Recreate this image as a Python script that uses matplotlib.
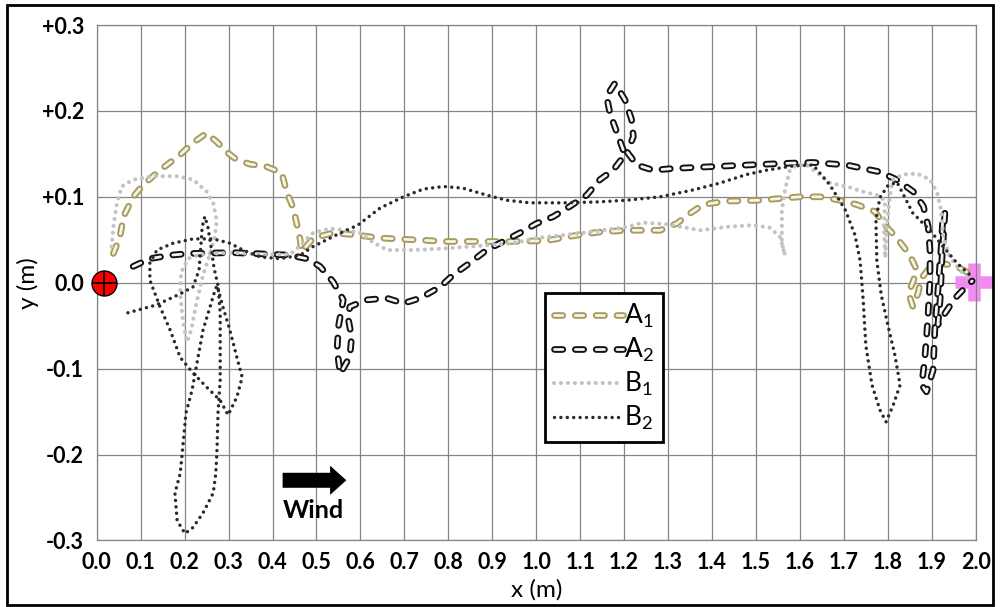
import matplotlib
matplotlib.use("Agg")
import matplotlib.pyplot as plt
import matplotlib.patheffects as pe
from matplotlib.patches import Rectangle

plt.rcParams['font.family'] = ['Lato', 'DejaVu Sans']
plt.rcParams['mathtext.fontset'] = 'custom'
plt.rcParams['mathtext.rm'] = 'Lato'
plt.rcParams['mathtext.it'] = 'Lato'
plt.rcParams['lines.scale_dashes'] = False

# ---------------- data ----------------
a1_x = [0.038, 0.053, 0.061, 0.083, 0.106, 0.144, 0.190, 0.219, 0.250, 0.273, 0.299, 0.319,
        0.349, 0.387, 0.421, 0.432, 0.447, 0.455, 0.463, 0.466, 0.493, 0.538, 0.584, 0.645,
        0.796, 0.948, 1.024, 1.100, 1.145, 1.206, 1.282, 1.320, 1.351, 1.380, 1.433, 1.509,
        1.600, 1.646, 1.691, 1.729, 1.770, 1.797, 1.824, 1.850, 1.866, 1.858, 1.847, 1.857,
        1.869, 1.876, 1.896, 1.930, 1.964, 1.992]
a1_y = [0.034, 0.054, 0.077, 0.100, 0.114, 0.131, 0.149, 0.163, 0.174, 0.164, 0.151, 0.143,
        0.138, 0.135, 0.128, 0.106, 0.087, 0.069, 0.050, 0.036, 0.052, 0.058, 0.056, 0.052,
        0.048, 0.048, 0.049, 0.056, 0.059, 0.061, 0.061, 0.069, 0.081, 0.091, 0.095, 0.096,
        0.100, 0.100, 0.096, 0.091, 0.083, 0.065, 0.050, 0.032, 0.015, 0.002, -0.012, -0.028,
        -0.012, 0.005, 0.018, 0.022, 0.017, 0.009]

a2_x = [0.083, 0.121, 0.167, 0.212, 0.311, 0.402, 0.440, 0.478, 0.508, 0.538, 0.561, 0.550,
        0.547, 0.554, 0.576, 0.580, 0.572, 0.576, 0.614, 0.660, 0.698, 0.736, 0.781, 0.811,
        0.849, 0.887, 0.925, 0.963, 1.001, 1.039, 1.077, 1.115, 1.145, 1.175, 1.202, 1.187,
        1.168, 1.160, 1.179, 1.202, 1.217, 1.221, 1.207, 1.229, 1.266, 1.312, 1.395, 1.479,
        1.570, 1.630, 1.707, 1.744, 1.782, 1.820, 1.858, 1.881, 1.892, 1.896, 1.896, 1.891,
        1.884, 1.877, 1.888, 1.903, 1.907, 1.914, 1.921, 1.925, 1.930, 1.923, 1.919, 1.914,
        1.923, 1.953, 1.983, 1.992]
a2_y = [0.019, 0.028, 0.032, 0.034, 0.035, 0.033, 0.032, 0.028, 0.019, 0.001, -0.020, -0.051,
        -0.078, -0.106, -0.086, -0.063, -0.041, -0.028, -0.020, -0.018, -0.024, -0.018, -0.005, 0.009,
        0.023, 0.038, 0.048, 0.058, 0.069, 0.077, 0.089, 0.102, 0.120, 0.131, 0.149, 0.170,
        0.197, 0.217, 0.232, 0.213, 0.190, 0.170, 0.152, 0.137, 0.131, 0.133, 0.135, 0.137,
        0.139, 0.140, 0.137, 0.133, 0.129, 0.120, 0.106, 0.089, 0.065, 0.038, 0.003, -0.043,
        -0.090, -0.119, -0.127, -0.102, -0.055, -0.009, 0.038, 0.073, 0.082, 0.026, -0.020, -0.049,
        -0.041, -0.018, -0.002, 0.002]

b1_x = [0.034, 0.038, 0.046, 0.057, 0.083, 0.129, 0.182, 0.220, 0.250, 0.265, 0.273, 0.269,
        0.258, 0.242, 0.226, 0.215, 0.205, 0.196, 0.190, 0.192, 0.208, 0.235, 0.303, 0.372,
        0.440, 0.463, 0.492, 0.531, 0.570, 0.599, 0.629, 0.661, 0.720, 0.797, 0.872, 0.947,
        1.002, 1.106, 1.207, 1.243, 1.298, 1.373, 1.434, 1.493, 1.532, 1.555, 1.566, 1.559,
        1.559, 1.566, 1.577, 1.593, 1.616, 1.639, 1.669, 1.707, 1.744, 1.775, 1.794, 1.791,
        1.794, 1.798, 1.805, 1.812, 1.835, 1.867, 1.896, 1.912, 1.921, 1.926, 1.941, 1.964,
        1.987]
b1_y = [0.042, 0.065, 0.093, 0.112, 0.120, 0.124, 0.124, 0.120, 0.106, 0.093, 0.073, 0.054,
        0.034, 0.009, -0.026, -0.055, -0.069, -0.043, -0.014, 0.012, 0.028, 0.033, 0.035, 0.033,
        0.033, 0.043, 0.058, 0.063, 0.061, 0.058, 0.047, 0.038, 0.038, 0.040, 0.043, 0.046,
        0.052, 0.058, 0.065, 0.070, 0.068, 0.061, 0.065, 0.067, 0.064, 0.053, 0.032, 0.046,
        0.085, 0.108, 0.131, 0.137, 0.137, 0.128, 0.116, 0.112, 0.106, 0.102, 0.096, 0.067,
        0.029, 0.067, 0.102, 0.120, 0.126, 0.127, 0.120, 0.105, 0.085, 0.053, 0.030, 0.015,
        0.003]

b2_x = [0.071, 0.135, 0.190, 0.219, 0.233, 0.237, 0.240, 0.246, 0.253, 0.260, 0.267, 0.276,
        0.281, 0.281, 0.281, 0.276, 0.274, 0.271, 0.265, 0.242, 0.219, 0.201, 0.183, 0.178,
        0.190, 0.196, 0.203, 0.217, 0.228, 0.242, 0.258, 0.269, 0.274, 0.287, 0.303, 0.319,
        0.331, 0.319, 0.299, 0.281, 0.251, 0.219, 0.190, 0.167, 0.144, 0.121, 0.121, 0.137,
        0.174, 0.219, 0.265, 0.303, 0.333, 0.372, 0.417, 0.463, 0.492, 0.547, 0.594, 0.645,
        0.698, 0.743, 0.789, 0.834, 0.887, 0.933, 0.986, 1.062, 1.138, 1.206, 1.282, 1.357,
        1.418, 1.479, 1.524, 1.585, 1.630, 1.668, 1.703, 1.725, 1.737, 1.744, 1.750, 1.764,
        1.782, 1.796, 1.812, 1.828, 1.816, 1.800, 1.785, 1.775, 1.773, 1.782, 1.800, 1.821,
        1.857, 1.896, 1.926, 1.957, 1.987]
b2_y = [-0.035, -0.026, -0.013, -0.005, 0.015, 0.042, 0.065, 0.077, 0.065, 0.042, 0.017, -0.003,
        -0.035, -0.075, -0.113, -0.152, -0.191, -0.222, -0.245, -0.268, -0.285, -0.292, -0.277, -0.245,
        -0.222, -0.191, -0.152, -0.125, -0.094, -0.055, -0.028, -0.009, -0.003, -0.028, -0.055, -0.087,
        -0.110, -0.133, -0.154, -0.137, -0.122, -0.105, -0.087, -0.055, -0.028, 0.003, 0.023, 0.038,
        0.046, 0.051, 0.051, 0.046, 0.038, 0.030, 0.028, 0.032, 0.042, 0.056, 0.067, 0.087,
        0.100, 0.109, 0.112, 0.110, 0.102, 0.096, 0.093, 0.093, 0.094, 0.096, 0.100, 0.108,
        0.116, 0.126, 0.131, 0.136, 0.137, 0.114, 0.085, 0.056, 0.026, -0.020, -0.073, -0.119,
        -0.148, -0.162, -0.143, -0.119, -0.084, -0.049, -0.014, 0.026, 0.073, 0.099, 0.113, 0.117,
        0.081, 0.061, 0.042, 0.023, 0.009]

series_labels = ['A$_1$', 'A$_2$', 'B$_1$', 'B$_2$']
start_xy = (0.017, 0.0)
goal_xy = (1.995, 0.001)
x_ticks = [round(0.1 * i, 1) for i in range(21)]
x_tick_labels = ['%.1f' % v for v in x_ticks]
y_ticks = [-0.3, -0.2, -0.1, 0.0, 0.1, 0.2, 0.3]
y_tick_labels = ['-0.3', '-0.2', '-0.1', '0.0', '+0.1', '+0.2', '+0.3']
wind_tail = (0.423, -0.230)
wind_head = (0.568, -0.230)
wind_text_xy = (0.494, -0.265)

# ---------------- figure ----------------
fig = plt.figure(figsize=(10, 6.07), dpi=100)
ax = fig.add_axes([0.0967, 0.1097, 0.879, 0.8491])

grid_col = '#858585'
ax.set_xlim(0, 2.0)
ax.set_ylim(-0.3, 0.3)
ax.set_xticks(x_ticks)
ax.set_xticklabels(x_tick_labels)
ax.set_yticks(y_ticks)
ax.set_yticklabels(y_tick_labels)
ax.grid(True, color=grid_col, lw=0.9)
ax.set_axisbelow(True)
for s in ax.spines.values():
    s.set_color(grid_col)
    s.set_linewidth(0.9)
ax.tick_params(length=0, labelsize=15.5)
ax.tick_params(axis='y', pad=9)
ax.tick_params(axis='x', pad=8)
for lab in ax.get_xticklabels() + ax.get_yticklabels():
    lab.set_fontweight('bold')
ax.set_xlabel('x (m)', fontsize=17.5, labelpad=5)
ax.set_ylabel('y (m)', fontsize=17.5, labelpad=2)

# goal marker (below lines)
ax.plot([goal_xy[0]], [goal_xy[1]], marker='+', ms=27, mec='#f08cf0',
        mew=9.0, ls='none', zorder=2, clip_on=False)

dash = (0, (6, 9))
a1, = ax.plot(a1_x, a1_y, color='#f6f3e8', lw=2.0, ls=dash, dash_capstyle='round',
              zorder=3, label=series_labels[0],
              path_effects=[pe.Stroke(linewidth=4.8, foreground='#a89b5f'), pe.Normal()])
a2, = ax.plot(a2_x, a2_y, color='#f4f4f4', lw=2.0, ls=dash, dash_capstyle='round',
              zorder=4, label=series_labels[1],
              path_effects=[pe.Stroke(linewidth=4.8, foreground='#111111'), pe.Normal()])
b1, = ax.plot(b1_x, b1_y, color='#c3c3c3', lw=3.0, ls=(0, (0.01, 5.0)),
              dash_capstyle='round', zorder=5, label=series_labels[2])
b2, = ax.plot(b2_x, b2_y, color='#2a2a2a', lw=2.5, ls=(0, (0.01, 4.6)),
              dash_capstyle='round', zorder=6, label=series_labels[3])

# start marker
ax.plot([start_xy[0]], [start_xy[1]], marker='o', ms=18, mfc='#ff0000', mec='black',
        mew=1.0, ls='none', zorder=7, clip_on=False)
ax.plot([start_xy[0]], [start_xy[1]], marker='+', ms=17, mec='black', mew=1.3,
        ls='none', zorder=8, clip_on=False)

# wind arrow
ax.annotate('', xy=wind_head, xytext=wind_tail,
            arrowprops=dict(arrowstyle='simple,head_length=0.78,head_width=1.4,tail_width=0.72',
                            fc='black', ec='black', lw=0, mutation_scale=15,
                            shrinkA=0, shrinkB=0), zorder=9)
ax.text(wind_text_xy[0], wind_text_xy[1], 'Wind', fontsize=18, fontweight='bold',
        ha='center', va='center', zorder=9)

leg = ax.legend(handles=[a1, a2, b1, b2], loc='upper left',
                bbox_to_anchor=(0.545, 1 - 293 / 607), bbox_transform=fig.transFigure,
                borderaxespad=0, fontsize=19, handlelength=2.6, handletextpad=0.05,
                labelspacing=0.22, borderpad=0.35, fancybox=False, framealpha=1,
                edgecolor='black')
leg.get_frame().set_linewidth(2.0)
leg.set_zorder(10)

# outer border
fig.patches.append(Rectangle((0.007, 0.004), 0.986, 0.988, transform=fig.transFigure,
                             fill=False, ec='black', lw=2.0))

fig.savefig('out.png', dpi=100)
